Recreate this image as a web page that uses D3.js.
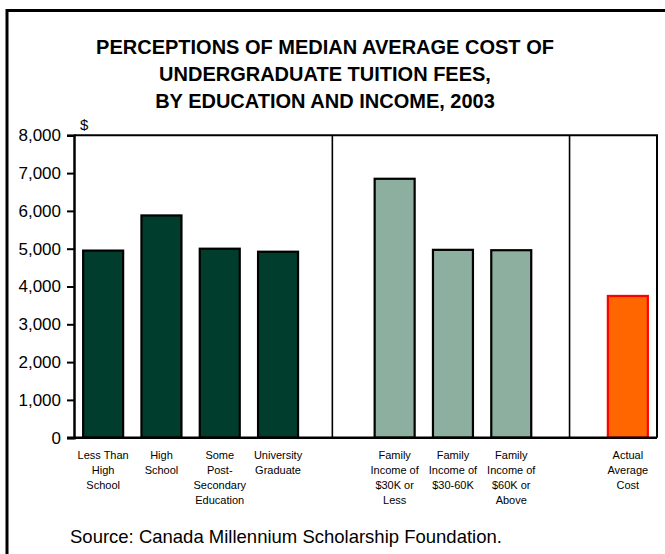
<!DOCTYPE html>
<html>
<head>
<meta charset="utf-8">
<script src="https://cdn.jsdelivr.net/npm/d3@7"></script>
<style>
  html, body { margin: 0; padding: 0; background: #fff; }
  svg { display: block; font-family: "Liberation Sans", Arial, sans-serif; }
</style>
</head>
<body>
<svg id="chart" width="665" height="554"></svg>
<script>
// Median perceived tuition cost, by education level of respondent
const educationLabels = [
  ["Less Than", "High", "School"],
  ["High", "School"],
  ["Some", "Post-", "Secondary", "Education"],
  ["University", "Graduate"]
];
const educationValues = [4950, 5880, 5000, 4920];

// Median perceived tuition cost, by family income
const incomeLabels = [
  ["Family", "Income of", "$30K or", "Less"],
  ["Family", "Income of", "$30-60K"],
  ["Family", "Income of", "$60K or", "Above"]
];
const incomeValues = [6850, 4970, 4960];

// Actual average undergraduate tuition
const actualLabels = [["Actual", "Average", "Cost"]];
const actualValues = [3750];

const yTicks = [0, 1000, 2000, 3000, 4000, 5000, 6000, 7000, 8000];

const titleLines = [
  "PERCEPTIONS OF MEDIAN AVERAGE COST OF",
  "UNDERGRADUATE TUITION FEES,",
  "BY EDUCATION AND INCOME, 2003"
];
const sourceText = "Source: Canada Millennium Scholarship Foundation.";

// Group styles
const groups = [
  { key: "edu", labels: educationLabels, values: educationValues, fill: "#003D2C", stroke: "#000" },
  { key: "inc", labels: incomeLabels, values: incomeValues, fill: "#8CAF9F", stroke: "#000" },
  { key: "act", labels: actualLabels, values: actualValues, fill: "#FF6600", stroke: "#FF0000" }
];

// Build the slot list: each group's bars, with an empty slot between groups
const rows = [];
const slots = [];
groups.forEach((g, gi) => {
  if (gi > 0) slots.push("gap" + gi);
  g.values.forEach((v, i) => {
    const id = g.key + i;
    slots.push(id);
    rows.push({ id, value: v, lines: g.labels[i], fill: g.fill, stroke: g.stroke });
  });
});

const svg = d3.select("#chart");
const plot = { left: 74, right: 657, top: 135.3, bottom: 437.7 };

// Outer frame
svg.append("rect")
  .attr("x", 7).attr("y", 10.5)
  .attr("width", 680).attr("height", 600)
  .attr("fill", "none").attr("stroke", "#000").attr("stroke-width", 3);

// Title
svg.append("g").selectAll("text").data(titleLines).join("text")
  .attr("x", 325)
  .attr("y", (d, i) => 53.5 + i * 27)
  .attr("text-anchor", "middle")
  .attr("font-size", 20)
  .attr("font-weight", "bold")
  .text(d => d);

const x = d3.scaleBand().domain(slots).range([plot.left, plot.right])
  .paddingInner(0.314).paddingOuter(0.157);
const y = d3.scaleLinear().domain([0, 8000]).range([plot.bottom, plot.top]);

// Group dividers (inside the empty slots)
const dividers = [{ slot: "gap1", frac: 0.4 }, { slot: "gap2", frac: 0.5 }];
svg.append("g").selectAll("line").data(dividers).join("line")
  .attr("x1", d => x(d.slot) + x.bandwidth() * d.frac)
  .attr("x2", d => x(d.slot) + x.bandwidth() * d.frac)
  .attr("y1", plot.top).attr("y2", plot.bottom)
  .attr("stroke", "#000").attr("stroke-width", 1.6);

// Bars
svg.append("g").selectAll("rect").data(rows).join("rect")
  .attr("x", d => x(d.id))
  .attr("width", x.bandwidth())
  .attr("y", d => y(d.value))
  .attr("height", d => y(0) - y(d.value))
  .attr("fill", d => d.fill)
  .attr("stroke", d => d.stroke)
  .attr("stroke-width", 2.2);

// Plot frame: top and right edges
svg.append("path")
  .attr("d", `M${plot.left},${plot.top}H${plot.right}V${plot.bottom}`)
  .attr("fill", "none").attr("stroke", "#000").attr("stroke-width", 2);

// Y axis
const yAxis = svg.append("g")
  .attr("transform", `translate(${plot.left},0)`)
  .call(d3.axisLeft(y).tickValues(yTicks).tickFormat(d3.format(",")).tickSize(7).tickPadding(6));
yAxis.select(".domain").attr("stroke", "#000").attr("stroke-width", 2.5);
yAxis.selectAll(".tick line").attr("stroke", "#000").attr("stroke-width", 2);
yAxis.selectAll(".tick text")
  .attr("font-family", "Liberation Sans, Arial, sans-serif")
  .attr("font-size", 17).attr("fill", "#000");

// Baseline
svg.append("line")
  .attr("x1", plot.left - 7).attr("x2", plot.right)
  .attr("y1", y(0)).attr("y2", y(0))
  .attr("stroke", "#000").attr("stroke-width", 2.5);

// Unit label
svg.append("text")
  .attr("x", 80).attr("y", 130)
  .attr("font-size", 15)
  .text("$");

// Category labels
const cat = svg.append("g").selectAll("text").data(rows).join("text")
  .attr("x", d => x(d.id) + x.bandwidth() / 2)
  .attr("y", 459)
  .attr("text-anchor", "middle")
  .attr("font-size", 11);
cat.selectAll("tspan").data(d => d.lines).join("tspan")
  .attr("x", function () { return d3.select(this.parentNode).attr("x"); })
  .attr("dy", (d, i) => i === 0 ? 0 : 15)
  .text(d => d);

// Source note
svg.append("text")
  .attr("x", 70).attr("y", 543)
  .attr("font-size", 18.5)
  .text(sourceText);
</script>
</body>
</html>
